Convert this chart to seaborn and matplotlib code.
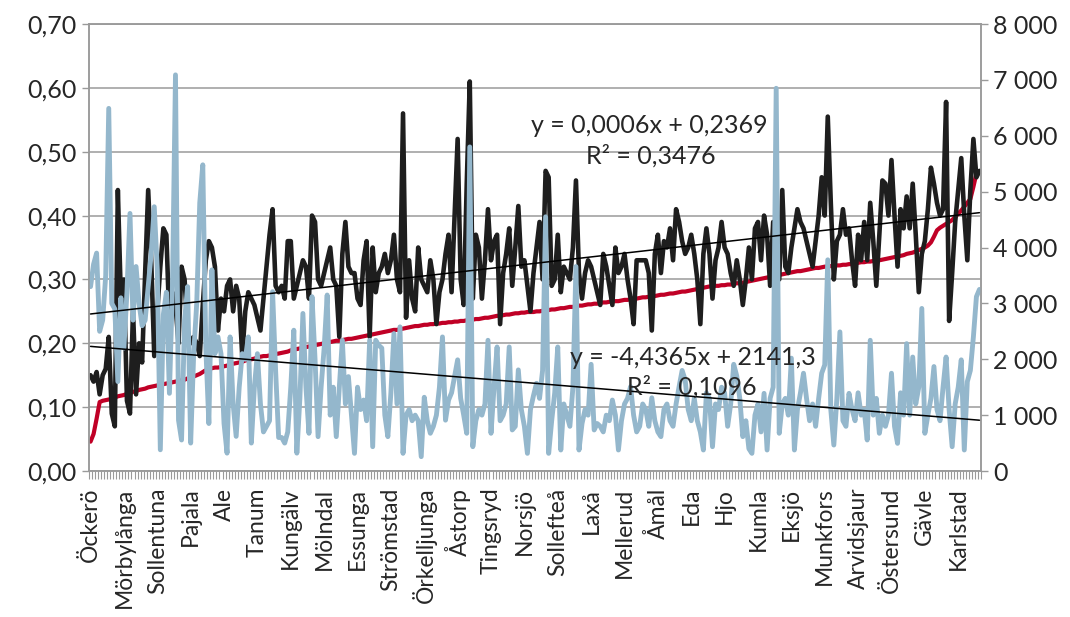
import numpy as np
import pandas as pd
import matplotlib
matplotlib.use("Agg")
import matplotlib.pyplot as plt
import seaborn as sns
from matplotlib.ticker import FuncFormatter, FixedLocator

# tick labels, every 11th kommun
labels = ["Öckerö", "Mörbylånga", "Sollentuna", "Pajala", "Ale", "Tanum", "Kungälv",
          "Mölndal", "Essunga", "Strömstad", "Örkelljunga", "Åstorp", "Tingsryd",
          "Norsjö", "Sollefteå", "Laxå", "Mellerud", "Åmål", "Eda", "Hjo", "Kumla",
          "Eksjö", "Munkfors", "Arvidsjaur", "Östersund", "Gävle", "Karlstad"]
label_step = 11

# sorted series (left axis, red)
red = [0.046, 0.058, 0.082, 0.108, 0.110, 0.111, 0.112, 0.113, 0.115, 0.117,
       0.118, 0.119, 0.121, 0.122, 0.124, 0.125, 0.127, 0.128, 0.129, 0.131,
       0.132, 0.133, 0.134, 0.135, 0.136, 0.137, 0.138, 0.139, 0.140, 0.141,
       0.142, 0.143, 0.145, 0.146, 0.148, 0.150, 0.152, 0.155, 0.158, 0.160,
       0.161, 0.162, 0.162, 0.163, 0.164, 0.165, 0.167, 0.168, 0.169, 0.170,
       0.171, 0.173, 0.174, 0.175, 0.176, 0.178, 0.179, 0.180, 0.180,
       0.181, 0.182, 0.183, 0.184, 0.185, 0.186, 0.187, 0.189, 0.190, 0.191, 0.192, 0.193,
       0.194, 0.195, 0.196, 0.197, 0.198, 0.199, 0.200, 0.201, 0.202, 0.203,
       0.204, 0.204, 0.205, 0.206, 0.207, 0.207, 0.208, 0.209, 0.210, 0.211,
       0.212, 0.213, 0.214, 0.215, 0.216, 0.217, 0.218, 0.219, 0.220, 0.221,
       0.221, 0.222, 0.223, 0.224, 0.225, 0.226, 0.227, 0.227, 0.228, 0.229,
       0.229, 0.230, 0.230, 0.231, 0.231, 0.232, 0.232, 0.233, 0.233, 0.234,
       0.234, 0.235, 0.235, 0.236, 0.236, 0.237, 0.238, 0.238, 0.239, 0.240,
       0.240, 0.241, 0.242, 0.243, 0.243, 0.244, 0.245, 0.245, 0.246, 0.247,
       0.247, 0.248, 0.248, 0.249, 0.249, 0.249, 0.250, 0.250, 0.251, 0.252, 0.252,
       0.253, 0.253, 0.254, 0.255, 0.255, 0.256, 0.257, 0.257, 0.258, 0.259,
       0.259, 0.260, 0.261, 0.261, 0.262, 0.262, 0.263, 0.264, 0.264, 0.265,
       0.265, 0.266, 0.266, 0.267, 0.268, 0.268, 0.269, 0.270, 0.270, 0.271,
       0.272, 0.272, 0.273, 0.274, 0.274, 0.275, 0.276, 0.276, 0.277, 0.278,
       0.278, 0.279, 0.280, 0.281, 0.281, 0.282, 0.283, 0.284, 0.285, 0.286,
       0.287, 0.288, 0.289, 0.289, 0.290, 0.290, 0.291, 0.291, 0.292, 0.292,
       0.293, 0.294, 0.294, 0.295, 0.296, 0.297, 0.298, 0.299, 0.300, 0.301,
       0.302, 0.303, 0.304, 0.305, 0.306, 0.307, 0.308, 0.309, 0.310, 0.311,
       0.312, 0.313, 0.313, 0.314, 0.315, 0.316, 0.317, 0.318, 0.318, 0.319, 0.320,
       0.320, 0.321, 0.321, 0.322, 0.322, 0.323, 0.323, 0.324, 0.324, 0.325,
       0.326, 0.327, 0.327, 0.328, 0.328, 0.329, 0.330, 0.330, 0.331, 0.332,
       0.333, 0.334, 0.335, 0.336, 0.337, 0.338, 0.340, 0.341, 0.342, 0.344,
       0.346, 0.348, 0.350, 0.353, 0.358, 0.367, 0.377, 0.381, 0.384, 0.387,
       0.390, 0.393, 0.398, 0.403, 0.408, 0.414, 0.420, 0.426, 0.445, 0.466, 0.468]

# black series (left axis)
black = [0.15, 0.14, 0.155, 0.12, 0.15, 0.16, 0.21, 0.09, 0.07, 0.44,
         0.27, 0.30, 0.11, 0.09, 0.25, 0.12, 0.20, 0.17, 0.31, 0.44,
         0.33, 0.18, 0.25, 0.32, 0.38, 0.37, 0.23, 0.28, 0.26, 0.20,
         0.32, 0.30, 0.22, 0.20, 0.21, 0.20, 0.18, 0.26, 0.33, 0.36,
         0.35, 0.32, 0.22, 0.27, 0.25, 0.29, 0.30, 0.25, 0.29, 0.27,
         0.18, 0.25, 0.28, 0.27, 0.26, 0.24, 0.22, 0.27, 0.32, 0.37, 0.41,
         0.29, 0.28, 0.29, 0.27, 0.36, 0.36, 0.27, 0.29, 0.31, 0.33,
         0.32, 0.27, 0.40, 0.39, 0.30, 0.29, 0.31, 0.33, 0.35, 0.30,
         0.29, 0.21, 0.34, 0.39, 0.32, 0.31, 0.31, 0.27, 0.26, 0.33,
         0.36, 0.21, 0.35, 0.28, 0.31, 0.32, 0.34, 0.31, 0.33, 0.37,
         0.30, 0.28, 0.56, 0.24, 0.33, 0.27, 0.25, 0.35, 0.30, 0.29,
         0.28, 0.33, 0.30, 0.23, 0.28, 0.30, 0.34, 0.37, 0.28, 0.40,
         0.52, 0.30, 0.26, 0.45, 0.61, 0.27, 0.37, 0.35, 0.27, 0.33,
         0.41, 0.33, 0.36, 0.37, 0.23, 0.31, 0.34, 0.38, 0.29, 0.35,
         0.415, 0.32, 0.33, 0.29, 0.25, 0.31, 0.35, 0.39, 0.30, 0.47, 0.46,
         0.29, 0.30, 0.37, 0.28, 0.32, 0.31, 0.30, 0.35, 0.455, 0.31,
         0.27, 0.31, 0.33, 0.32, 0.30, 0.28, 0.26, 0.34, 0.32, 0.29,
         0.26, 0.35, 0.31, 0.32, 0.34, 0.30, 0.27, 0.23, 0.33, 0.33,
         0.33, 0.33, 0.31, 0.22, 0.34, 0.37, 0.31, 0.36, 0.35, 0.38,
         0.33, 0.41, 0.39, 0.36, 0.34, 0.35, 0.37, 0.34, 0.30, 0.23,
         0.34, 0.38, 0.34, 0.27, 0.33, 0.35, 0.39, 0.35, 0.34, 0.31,
         0.29, 0.33, 0.30, 0.26, 0.30, 0.35, 0.30, 0.38, 0.39, 0.33,
         0.40, 0.37, 0.29, 0.39, 0.38, 0.30, 0.44, 0.32, 0.31, 0.35,
         0.38, 0.41, 0.39, 0.38, 0.36, 0.34, 0.32, 0.36, 0.40, 0.46, 0.40,
         0.555, 0.42, 0.30, 0.36, 0.37, 0.41, 0.37, 0.38, 0.33, 0.29,
         0.37, 0.33, 0.39, 0.33, 0.42, 0.36, 0.29, 0.37, 0.455, 0.45,
         0.40, 0.487, 0.40, 0.32, 0.41, 0.38, 0.43, 0.38, 0.45, 0.37,
         0.28, 0.34, 0.36, 0.41, 0.475, 0.45, 0.42, 0.40, 0.41, 0.578,
         0.235, 0.31, 0.39, 0.44, 0.49, 0.40, 0.33, 0.44, 0.52, 0.46, 0.47]

# light blue series (right axis)
blue = [3300, 3700, 3900, 2500, 2700, 3500, 6490, 3000, 2900, 1600,
        3100, 2200, 3200, 4610, 2700, 3660, 3000, 2600, 2700, 3300,
        3900, 4730, 3600, 380, 2800, 3200, 1390, 3300, 7090, 910,
        555, 2700, 3300, 500, 2100, 3000, 4800, 5480, 2200, 850,
        3600, 2100, 2400, 2100, 850, 320, 2400, 1200, 620, 1500,
        2100, 2000, 2400, 500, 1500, 2100, 1200, 700, 800, 900, 3210,
        1800, 600, 600, 500, 700, 1500, 2520, 320, 1300, 2820,
        1500, 675, 3120, 2000, 615, 1500, 2200, 3150, 1000, 1500,
        615, 1500, 2340, 1200, 1690, 1000, 316, 1500, 1100, 1270,
        900, 2340, 435, 2340, 2250, 2200, 1000, 615, 1400, 2460,
        1200, 2580, 316, 1000, 1100, 900, 1000, 900, 257, 1320,
        900, 675, 800, 1000, 1500, 2400, 910, 1270, 1400, 1700,
        1990, 1300, 1000, 675, 5800, 435, 900, 1100, 1000, 1200,
        2340, 675, 1500, 2220, 900, 1000, 1200, 2220, 735, 800,
        1810, 1100, 800, 316, 1100, 1350, 1570, 1300, 1800, 4550, 316,
        900, 1400, 2220, 376, 1200, 1000, 800, 1500, 3660, 376,
        850, 1100, 1000, 1910, 735, 850, 800, 700, 1000, 900,
        1270, 1000, 376, 900, 1200, 1300, 1510, 1000, 700, 800,
        1200, 1100, 800, 1310, 900, 700, 615, 1100, 1200, 900,
        800, 1200, 1510, 1800, 1630, 1100, 900, 1300, 900, 700,
        376, 1400, 1300, 435, 1200, 1100, 1500, 1400, 800, 1200,
        1910, 1700, 1300, 615, 900, 400, 316, 1000, 1200, 700,
        1390, 376, 1300, 1500, 6850, 675, 1200, 1300, 1000, 2020,
        376, 1100, 1400, 1750, 1300, 900, 1200, 800, 1300, 1750, 1900,
        3780, 1100, 465, 1300, 2490, 900, 800, 1390, 1100, 900,
        1400, 1000, 1100, 555, 2340, 1000, 1300, 675, 1000, 800,
        1000, 1750, 800, 495, 1400, 1000, 2280, 1000, 2040, 1200,
        1500, 2910, 675, 1000, 1300, 1870, 1100, 900, 1500, 2040,
        1100, 435, 1200, 1500, 1990, 376, 1600, 1800, 2400, 3120, 3250]

eq_black = ["y = 0,0006x + 0,2369", "R² = 0,3476"]
eq_blue = ["y = -4,4365x + 2141,3", "R² = 0,1096"]

n = len(red)
df = pd.DataFrame({"pos": np.arange(n), "red": red, "black": black, "blue": blue})

sns.set_style("white")
plt.rcParams['font.family'] = ['Lato', 'DejaVu Sans']

gray = '#9a9a9a'
fs = 18

fig, ax = plt.subplots(figsize=(10.7, 6.17), dpi=100)
plt.subplots_adjust(left=0.0832, right=0.9168, top=0.9611, bottom=0.2366)

ax2 = ax.twinx()   # right scale, light blue series
ax3 = ax.twinx()   # left scale, trend of black series (drawn on top)
ax4 = ax.twinx()   # right scale, trend of blue series (drawn on top)

kw = dict(sort=False, estimator=None, solid_joinstyle='round', solid_capstyle='round')
sns.lineplot(data=df, x='pos', y='red', ax=ax, color='#c00026', linewidth=3.0, **kw)
sns.lineplot(data=df, x='pos', y='black', ax=ax, color='#1e1e1e', linewidth=3.3, **kw)
sns.lineplot(data=df, x='pos', y='blue', ax=ax2, color='#94b7cc', linewidth=3.5, **kw)

# linear trendlines
sns.regplot(data=df, x='pos', y='black', ax=ax3, scatter=False, ci=None, truncate=True,
            color='black', line_kws={'linewidth': 1.1})
sns.regplot(data=df, x='pos', y='blue', ax=ax4, scatter=False, ci=None, truncate=True,
            color='black', line_kws={'linewidth': 1.1})

for a in (ax, ax2, ax3, ax4):
    a.set_xlim(-0.5, n - 0.5)
    a.set_xlabel('')
    a.set_ylabel('')
ax.set_ylim(0, 0.7)
ax3.set_ylim(0, 0.7)
ax2.set_ylim(0, 8000)
ax4.set_ylim(0, 8000)
ax3.axis('off')
ax4.axis('off')

# left axis
ax.yaxis.set_major_locator(FixedLocator(np.arange(0, 0.71, 0.1)))
ax.yaxis.set_major_formatter(FuncFormatter(lambda v, p: f"{v:.2f}".replace('.', ',')))
ax.yaxis.grid(True, color=gray, linewidth=1.1)
ax.tick_params(axis='y', length=5, width=1, color=gray, labelsize=fs, pad=4, left=True)

# right axis
ax2.yaxis.set_major_locator(FixedLocator(np.arange(0, 8001, 1000)))
ax2.yaxis.set_major_formatter(FuncFormatter(lambda v, p: f"{int(v):,}".replace(',', ' ')))
ax2.tick_params(axis='y', length=5, width=1, color=gray, labelsize=fs, pad=4, right=True)

# category axis
ax.set_xticks(np.arange(0, n, label_step))
ax.set_xticklabels(labels, rotation=90)
ax.set_xticks(np.arange(-0.5, n, 1), minor=True)
ax.tick_params(axis='x', which='major', length=0, labelsize=16.5, pad=12)
ax.tick_params(axis='x', which='minor', length=6, width=0.8, color=gray, bottom=True)

for a in (ax, ax2):
    for s in a.spines.values():
        s.set_color(gray)
        s.set_linewidth(1.1)

ax4.text(0.628, 0.772, eq_black[0], transform=ax4.transAxes, ha='center', va='center', fontsize=fs)
ax4.text(0.630, 0.705, eq_black[1], transform=ax4.transAxes, ha='center', va='center', fontsize=fs)
ax4.text(0.677, 0.255, eq_blue[0], transform=ax4.transAxes, ha='center', va='center', fontsize=fs)
ax4.text(0.676, 0.188, eq_blue[1], transform=ax4.transAxes, ha='center', va='center', fontsize=fs)

fig.savefig("out.png", dpi=100)
